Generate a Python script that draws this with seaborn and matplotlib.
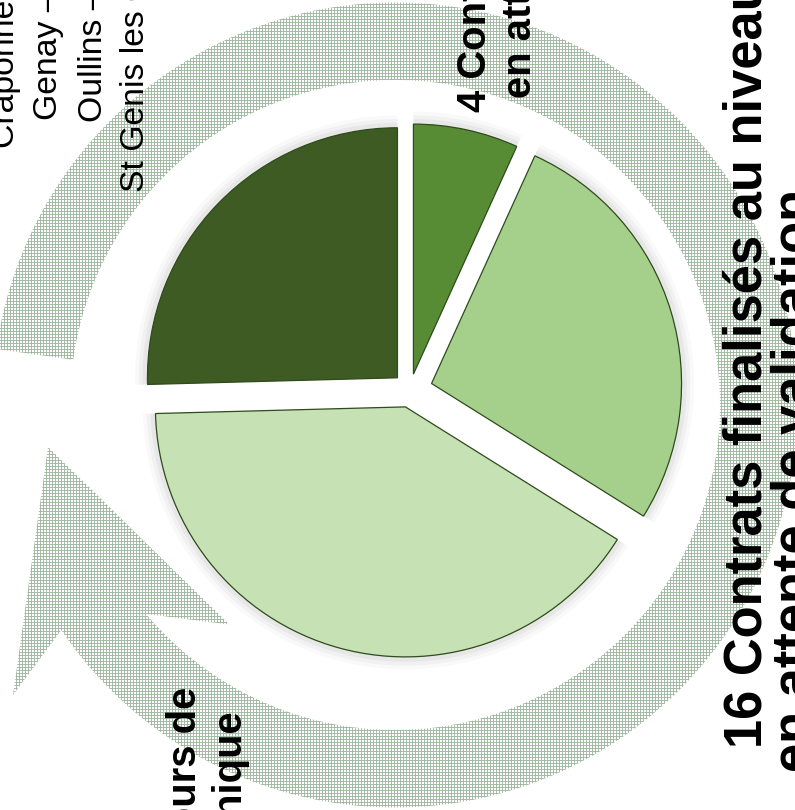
import numpy as np
import matplotlib
matplotlib.use('Agg')
import matplotlib.pyplot as plt
from matplotlib.patches import Polygon
import seaborn as sns

sns.set_theme(style='white')
plt.rcParams['font.family'] = ['Liberation Sans', 'DejaVu Sans']
plt.rcParams['hatch.linewidth'] = 0.7

# pie data (wedges drawn counterclockwise from 12 o'clock)
groups = ['Communes', 'En cours', 'Finalisés', 'En attente']
values = [15, 24, 16, 4]
colors = ['#3d5b23', '#c6e1b4', '#a5d08c', '#578c34']
explode = [0.07, 0.07, 0.09, 0.065]

# texts, written vertically
city_lines = ['Craponne –', 'Genay –', 'Oullins –', 'St Genis les Ollières']
wait_lines = ['4 Contrats', 'en attente']
done_lines = ['16 Contrats finalisés au niveau', 'en attente de validation']
tech_lines = ['en cours de', 'technique']

W, H, DPI = 795, 810, 90
CX, CY, UNIT = 410, 390, 250.0   # pie centre and radius in pixels


def P(x, y):
    # pixel position -> data units
    return (x - CX) / UNIT, (CY - y) / UNIT


fig = plt.figure(figsize=(W / DPI, H / DPI), dpi=DPI)
ax = fig.add_axes([0, 0, 1, 1])

# circular arrow behind the pie
rc = np.array(P(395, 405))
r_in, r_out = 1.30, 1.61
tail, head_out, head_in = 172, -146, -140


def pt(ang, r):
    a = np.radians(ang)
    return rc + r * np.array([np.cos(a), np.sin(a)])


outer = [pt(a, r_out) for a in np.linspace(tail, head_out, 200)]
head = [pt(-142.8, 1.918), pt(-173.1, 1.398), pt(-127, 1.10)]
inner = [pt(a, r_in) for a in np.linspace(head_in, tail, 200)]
band = Polygon(np.array(outer + head + inner), closed=True, facecolor='white',
               edgecolor='#9db59d', hatch='+++++', linewidth=0, zorder=0)
ax.add_patch(band)

# soft glow round the wedges
for r, a in [(1.05, 0.04), (1.035, 0.06), (1.02, 0.08)]:
    ax.pie(values, radius=r, explode=explode, startangle=90,
           colors=['#7a7a7a'] * len(values),
           wedgeprops=dict(alpha=a, linewidth=0))

ax.pie(values, radius=1, explode=explode, startangle=90, colors=colors,
       wedgeprops=dict(edgecolor='#2f4a1b', linewidth=1.0))

ax.set_xlim(P(0, 0)[0], P(W, 0)[0])
ax.set_ylim(P(0, H)[1], P(0, 0)[1])
ax.set_aspect('equal')
ax.axis('off')

reg = dict(rotation=90, rotation_mode='anchor', va='baseline', fontsize=27,
           color='black')
bold = dict(rotation=90, rotation_mode='anchor', va='baseline', fontsize=32,
            fontweight='bold', color='black')
big = dict(bold, fontsize=42)

for s, bx, sy in zip(city_lines, [14, 57, 102, 144], [148, 120, 122, 192]):
    ax.text(*P(bx, sy), s, ha='left', **reg)
for s, bx, sy in zip(wait_lines, [486, 531], [112, 98]):
    ax.text(*P(bx, sy), s, ha='left', **bold)
for s, bx, sy in zip(done_lines, [762, 810], [748, 772]):
    ax.text(*P(bx, sy), s, ha='left', **big)
for s, bx, ey in zip(tech_lines, [196, 242], [687, 710]):
    ax.text(*P(bx, ey), s, ha='right', **bold)

fig.savefig('out.png', dpi=DPI, facecolor='white')
